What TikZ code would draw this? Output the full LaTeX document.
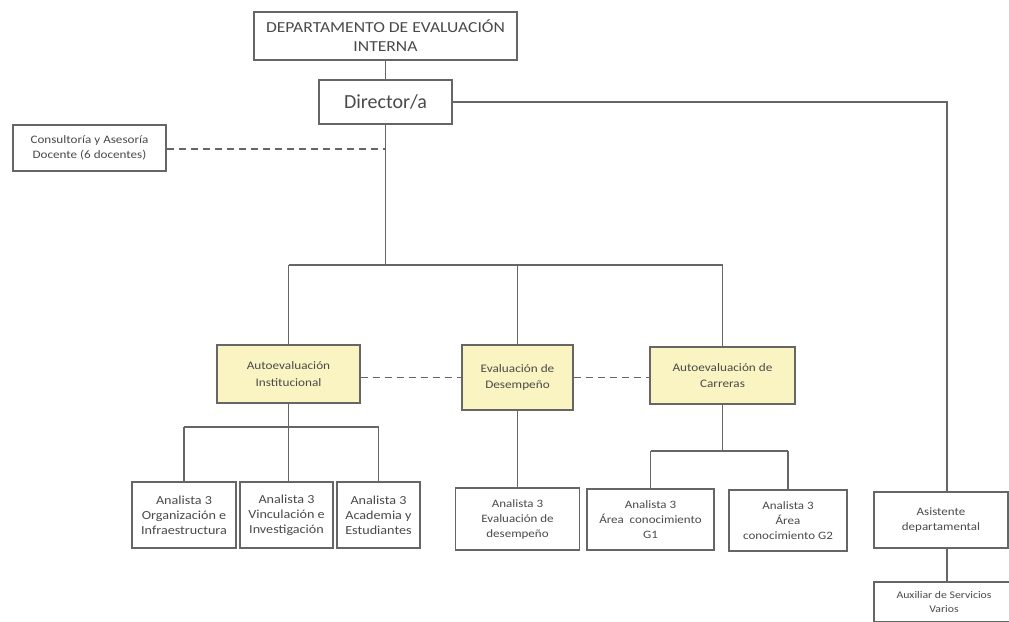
\documentclass[tikz,border=0pt]{standalone}
\usepackage{fontspec}
\setmainfont{Carlito}
\newfontfamily\wide[FakeStretch=1.15]{Carlito}
\usetikzlibrary{calc}
\definecolor{ln}{HTML}{666666}
\definecolor{tx}{HTML}{4A4A4A}
\definecolor{yel}{HTML}{FAF4C2}
\tikzset{
  box/.style={draw=ln, line width=1.1pt, fill=white, text=tx, align=center, inner sep=0pt, rectangle},
  ybox/.style={box, fill=yel},
  conn/.style={draw=ln, line width=1.1pt},
  dconn/.style={conn, dash pattern=on 7pt off 5pt},
  fa/.style={font=\wide\fontsize{12.3}{15}\selectfont},
  fb/.style={font=\wide\fontsize{11.3}{15}\selectfont},
  fy/.style={font=\wide\fontsize{11.5}{16.5}\selectfont},
}
\begin{document}
\begin{tikzpicture}[x=1pt,y=-1pt]
\useasboundingbox (0,0) rectangle (1009,621);
\clip (0,0) rectangle (1009,621);
\fill[white] (0,0) rectangle (1009,621);

% nodes
\node[box, minimum width=263pt, minimum height=48pt, font=\wide\fontsize{15.3}{19}\selectfont] (top) at (385.5,36) {DEPARTAMENTO DE EVALUACIÓN\\INTERNA};
\node[box, minimum width=133pt, minimum height=44pt, font=\fontsize{20}{24}\selectfont] (dir) at (385.5,102) {Director/a};
\node[box, minimum width=153pt, minimum height=46pt, font=\wide\fontsize{11.4}{14.5}\selectfont] (cons) at (89.5,148) {Consultoría y Asesoría\\Docente (6 docentes)};

\node[ybox, fy, minimum width=143pt, minimum height=58pt] (ai) at (288.5,374) {Autoevaluación\\Institucional};
\node[ybox, fy, minimum width=111pt, minimum height=65pt] (ed) at (517.5,377.5) {Evaluación de\\Desempeño};
\node[ybox, fy, minimum width=145pt, minimum height=57pt] (ac) at (722.5,375.5) {Autoevaluación de\\Carreras};

\node[box, fa, minimum width=104pt, minimum height=66pt] (a1) at (184,515) {Analista 3\\Organización e\\Infraestructura};
\node[box, fa, minimum width=93pt, minimum height=66pt] (a2) at (286.5,515) {Analista 3\\Vinculación e\\Investigación};
\node[box, fa, minimum width=83pt, minimum height=66pt] (a3) at (378.5,515) {Analista 3\\Academia y\\Estudiantes};

\node[box, fb, minimum width=124pt, minimum height=62pt] (b1) at (517.5,519) {Analista 3\\Evaluación de\\desempeño};
\node[box, fb, minimum width=127pt, minimum height=61pt] (b2) at (650.5,519.5) {Analista 3\\Área\ \ conocimiento\\G1};
\node[box, fb, minimum width=118pt, minimum height=61pt] (b3) at (788,520.5) {Analista 3\\Área\\conocimiento G2};

\node[box, fb, minimum width=134pt, minimum height=56pt] (as) at (941,520) {Asistente\\departamental};
\node[box, font=\wide\fontsize{10.2}{14}\selectfont, minimum width=140pt, minimum height=40pt] (aux) at (944,602) {Auxiliar de Servicios\\Varios};

% coordinates
\coordinate (br) at (385.5,265);
\coordinate (ci) at (385.5,149);
\coordinate (vr) at (947,102);
\coordinate (bi) at (288.5,427);
\coordinate (bc) at (722.5,451);
\coordinate (dy) at (0,377.5);
\coordinate (va) at (947,548);
\coordinate (vb) at (947,582);

% connectors
\draw[conn] (top) -- (dir);
\draw[conn] (dir.south) -- (br);
\draw[conn] (ai.north |- br) -- (ac.north |- br);
\draw[conn] (ai.north |- br) -- (ai.north);
\draw[conn] (ed.north |- br) -- (ed.north);
\draw[conn] (ac.north |- br) -- (ac.north);
\draw[dconn] (cons.east |- ci) -- (ci);
\draw[conn] (dir.east) -- (vr) -- (vr |- as.north);

\draw[conn] (ai.south) -- (bi);
\draw[conn] (a1.north |- bi) -- (a3.north |- bi);
\draw[conn] (a1.north |- bi) -- (a1.north);
\draw[conn] (bi) -- (bi |- a2.north);
\draw[conn] (a3.north |- bi) -- (a3.north);

\draw[conn] (ed.south) -- (b1.north);

\draw[conn] (ac.south) -- (bc);
\draw[conn] (b2.north |- bc) -- (b3.north |- bc);
\draw[conn] (b2.north |- bc) -- (b2.north);
\draw[conn] (b3.north |- bc) -- (b3.north);

\draw[dconn] (ai.east |- dy) -- (ed.west |- dy);
\draw[dconn] (ed.east |- dy) -- (ac.west |- dy);

\draw[conn] (va) -- (vb);
\end{tikzpicture}
\end{document}
